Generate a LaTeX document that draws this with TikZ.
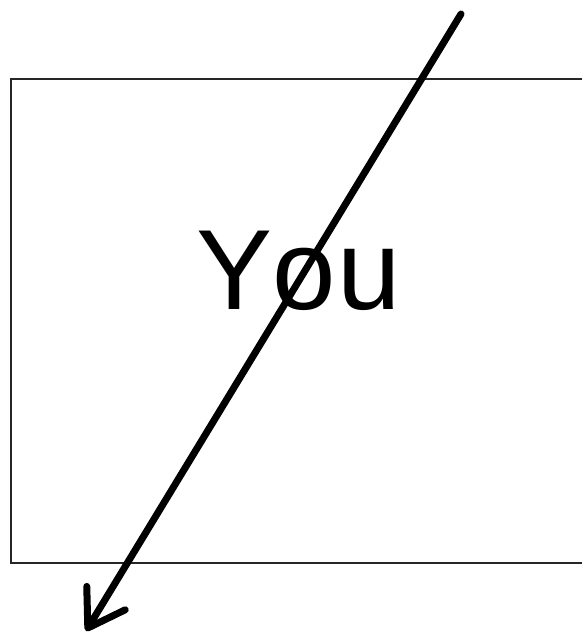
\documentclass[tikz,border=0pt]{standalone}
\usepackage{fontspec}
\setmainfont[Kerning=Off]{Liberation Sans}
\usetikzlibrary{arrows.meta}
\tikzset{
  framebox/.style={draw=black!85, line width=1.5pt},
  bigword/.style={font=\fontsize{114}{114}\selectfont, inner sep=0pt, anchor=base west},
  pointer/.style={line width=7pt, line cap=round, line join=round,
    -{Straight Barb[length=35pt, width=45pt, line cap=round, line join=round]}}
}
\begin{document}
\begin{tikzpicture}[x=1pt, y=-1pt]
  \useasboundingbox (0,0) rectangle (581,636);
  \fill[white] (0,0) rectangle (581,636);
  \draw[framebox] (11,79) rectangle (600,563);
  \node[bigword] (you) at (196,309) {Yo\kern2pt u};
  \coordinate (start) at (461,14);
  \coordinate (tip) at (86,631);
  \draw[pointer] (start) -- (tip);
\end{tikzpicture}
\end{document}
